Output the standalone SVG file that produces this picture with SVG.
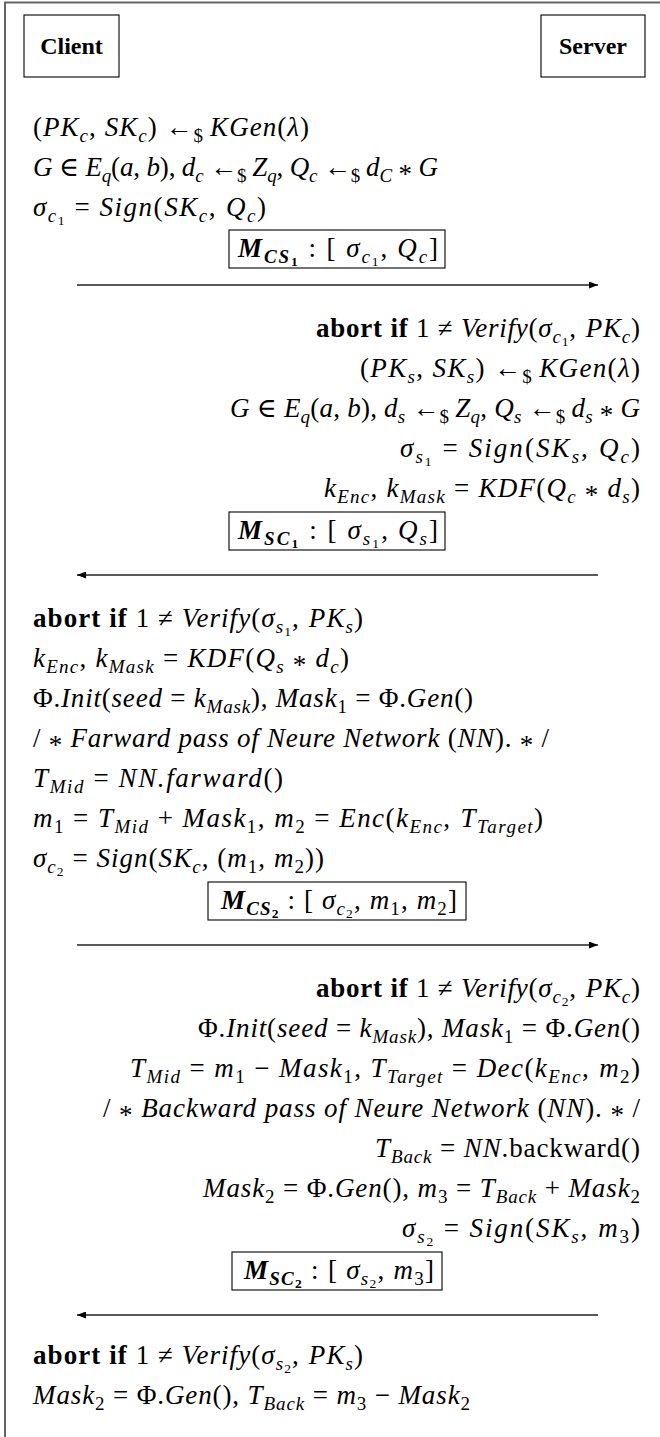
<svg xmlns="http://www.w3.org/2000/svg" width="660" height="1437" viewBox="0 0 660 1437" font-family="'Liberation Serif', 'DejaVu Serif', serif">
<style>
.t{font-family:'Liberation Serif','DejaVu Serif',serif;font-size:27px;fill:#000}
.e{text-anchor:end}
.c{text-anchor:middle}
.i{font-style:italic}
.s{font-size:19px}
.si{font-size:19px;font-style:italic}
.ss{font-size:13.5px}
.b{font-weight:bold}
.bi{font-weight:bold;font-style:italic}
.sbi{font-size:19px;font-weight:bold;font-style:italic}
.ssb{font-size:13.5px;font-weight:bold}
.hd{font-family:'Liberation Serif','DejaVu Serif',serif;font-size:24px;font-weight:bold;text-anchor:middle}
.box{fill:#fff;stroke:#000;stroke-width:1.1}
.arr{stroke:#222;stroke-width:1.3;fill:none;marker-end:url(#ah)}
</style>
<defs>
<marker id="ah" markerUnits="userSpaceOnUse" markerWidth="9" markerHeight="7" refX="9" refY="3.5" orient="auto"><path d="M0,0 L9,3.5 L0,7 z" fill="#000"/></marker>
</defs>
<rect width="660" height="1437" fill="#fff"/>
<path d="M5,1437 V2.5 H660" fill="none" stroke="#666" stroke-width="2"/>

<g id="client">
<rect class="box" x="24" y="15" width="95" height="62"/>
<text class="hd" x="71.5" y="54">Client</text>
</g>
<g id="server">
<rect class="box" x="541" y="15" width="104" height="62"/>
<text class="hd" x="593" y="54">Server</text>
</g>

<g id="client-step1">
<text class="t" x="33" y="136" textLength="276" lengthAdjust="spacing">(<tspan class="i">PK</tspan><tspan class="si" dy="6">c</tspan><tspan dy="-6">, </tspan><tspan class="i">SK</tspan><tspan class="si" dy="6">c</tspan><tspan dy="-6">) ←</tspan><tspan class="s" dy="6">$</tspan><tspan class="i" dy="-6" dx="6">KGen</tspan>(<tspan class="i">λ</tspan>)</text>
<text class="t" x="33" y="176" textLength="405" lengthAdjust="spacing"><tspan class="i">G</tspan> ∈ <tspan class="i">E</tspan><tspan class="si" dy="6">q</tspan><tspan dy="-6">(</tspan><tspan class="i">a</tspan>, <tspan class="i">b</tspan>), <tspan class="i">d</tspan><tspan class="si" dy="6">c</tspan><tspan dy="-6"> ←</tspan><tspan class="s" dy="6">$</tspan><tspan class="i" dy="-6" dx="6">Z</tspan><tspan class="si" dy="6">q</tspan><tspan dy="-6">, </tspan><tspan class="i">Q</tspan><tspan class="si" dy="6">c</tspan><tspan dy="-6"> ←</tspan><tspan class="s" dy="6">$</tspan><tspan class="i" dy="-6" dx="6">d</tspan><tspan class="si" dy="6">C</tspan><tspan dy="1"> * </tspan><tspan class="i" dy="-7">G</tspan></text>
<text class="t" x="33" y="216" textLength="233" lengthAdjust="spacing"><tspan class="i">σ</tspan><tspan class="si" dy="6">c</tspan><tspan class="ss" dy="3">1</tspan><tspan dy="-9"> = </tspan><tspan class="i">Sign</tspan>(<tspan class="i">SK</tspan><tspan class="si" dy="6">c</tspan><tspan dy="-6">,</tspan><tspan class="i" dx="9">Q</tspan><tspan class="si" dy="6">c</tspan><tspan dy="-6">)</tspan></text>
</g>

<g id="msg-cs1">
<rect class="box" x="229" y="230" width="216" height="38"/>
<text class="t c" x="338" y="257" textLength="200" lengthAdjust="spacing"><tspan class="bi">M</tspan><tspan class="sbi" dy="6">CS</tspan><tspan class="ssb" dy="3">1</tspan><tspan dy="-9"> : [ </tspan><tspan class="i">σ</tspan><tspan class="si" dy="6">c</tspan><tspan class="ss" dy="3">1</tspan><tspan dy="-9">,</tspan><tspan class="i" dx="8">Q</tspan><tspan class="si" dy="6">c</tspan><tspan dy="-6">]</tspan></text>
</g>

<g id="server-step1">
<text class="t e" x="640" y="337" textLength="324" lengthAdjust="spacing"><tspan class="b">abort if</tspan> 1 ≠ <tspan class="i">Verify</tspan>(<tspan class="i">σ</tspan><tspan class="si" dy="6">c</tspan><tspan class="ss" dy="3">1</tspan><tspan dy="-9">,</tspan><tspan class="i" dx="9">PK</tspan><tspan class="si" dy="6">c</tspan><tspan dy="-6">)</tspan></text>
<text class="t e" x="640" y="377" textLength="280" lengthAdjust="spacing">(<tspan class="i">PK</tspan><tspan class="si" dy="6">s</tspan><tspan dy="-6">, </tspan><tspan class="i">SK</tspan><tspan class="si" dy="6">s</tspan><tspan dy="-6">) ←</tspan><tspan class="s" dy="6">$</tspan><tspan class="i" dy="-6" dx="6">KGen</tspan>(<tspan class="i">λ</tspan>)</text>
<text class="t e" x="640" y="417" textLength="410" lengthAdjust="spacing"><tspan class="i">G</tspan> ∈ <tspan class="i">E</tspan><tspan class="si" dy="6">q</tspan><tspan dy="-6">(</tspan><tspan class="i">a</tspan>, <tspan class="i">b</tspan>), <tspan class="i">d</tspan><tspan class="si" dy="6">s</tspan><tspan dy="-6"> ←</tspan><tspan class="s" dy="6">$</tspan><tspan class="i" dy="-6" dx="6">Z</tspan><tspan class="si" dy="6">q</tspan><tspan dy="-6">, </tspan><tspan class="i">Q</tspan><tspan class="si" dy="6">s</tspan><tspan dy="-6"> ←</tspan><tspan class="s" dy="6">$</tspan><tspan class="i" dy="-6" dx="6">d</tspan><tspan class="si" dy="6">s</tspan><tspan dy="1"> * </tspan><tspan class="i" dy="-7">G</tspan></text>
<text class="t e" x="640" y="457" textLength="240" lengthAdjust="spacing"><tspan class="i">σ</tspan><tspan class="si" dy="6">s</tspan><tspan class="ss" dy="3">1</tspan><tspan dy="-9"> = </tspan><tspan class="i">Sign</tspan>(<tspan class="i">SK</tspan><tspan class="si" dy="6">s</tspan><tspan dy="-6">,</tspan><tspan class="i" dx="9">Q</tspan><tspan class="si" dy="6">c</tspan><tspan dy="-6">)</tspan></text>
<text class="t e" x="640" y="497" textLength="316" lengthAdjust="spacing"><tspan class="i">k</tspan><tspan class="si" dy="6">Enc</tspan><tspan dy="-6">, </tspan><tspan class="i">k</tspan><tspan class="si" dy="6">Mask</tspan><tspan dy="-6"> = </tspan><tspan class="i">KDF</tspan>(<tspan class="i">Q</tspan><tspan class="si" dy="6">c</tspan><tspan dy="1"> * </tspan><tspan class="i" dy="-7">d</tspan><tspan class="si" dy="6">s</tspan><tspan dy="-6">)</tspan></text>
</g>

<g id="msg-sc1">
<rect class="box" x="229" y="512" width="216" height="38"/>
<text class="t c" x="338" y="539" textLength="200" lengthAdjust="spacing"><tspan class="bi">M</tspan><tspan class="sbi" dy="6">SC</tspan><tspan class="ssb" dy="3">1</tspan><tspan dy="-9"> : [ </tspan><tspan class="i">σ</tspan><tspan class="si" dy="6">s</tspan><tspan class="ss" dy="3">1</tspan><tspan dy="-9">,</tspan><tspan class="i" dx="8">Q</tspan><tspan class="si" dy="6">s</tspan><tspan dy="-6">]</tspan></text>
</g>

<g id="client-step2">
<text class="t" x="33" y="627" textLength="330" lengthAdjust="spacing"><tspan class="b">abort if</tspan> 1 ≠ <tspan class="i">Verify</tspan>(<tspan class="i">σ</tspan><tspan class="si" dy="6">s</tspan><tspan class="ss" dy="3">1</tspan><tspan dy="-9">,</tspan><tspan class="i" dx="9">PK</tspan><tspan class="si" dy="6">s</tspan><tspan dy="-6">)</tspan></text>
<text class="t" x="33" y="667" textLength="316" lengthAdjust="spacing"><tspan class="i">k</tspan><tspan class="si" dy="6">Enc</tspan><tspan dy="-6">, </tspan><tspan class="i">k</tspan><tspan class="si" dy="6">Mask</tspan><tspan dy="-6"> = </tspan><tspan class="i">KDF</tspan>(<tspan class="i">Q</tspan><tspan class="si" dy="6">s</tspan><tspan dy="1"> * </tspan><tspan class="i" dy="-7">d</tspan><tspan class="si" dy="6">c</tspan><tspan dy="-6">)</tspan></text>
<text class="t" x="33" y="707" textLength="440" lengthAdjust="spacing">Φ.<tspan class="i">Init</tspan>(<tspan class="i">seed</tspan> = <tspan class="i">k</tspan><tspan class="si" dy="6">Mask</tspan><tspan dy="-6">), </tspan><tspan class="i">Mask</tspan><tspan class="s" dy="6">1</tspan><tspan dy="-6"> = Φ.</tspan><tspan class="i">Gen</tspan>()</text>
<text class="t" x="33" y="747" textLength="516" lengthAdjust="spacing">/ <tspan dy="7">*</tspan><tspan class="i" dy="-7"> Farward pass of Neure Network</tspan> (<tspan class="i">NN</tspan>). <tspan dy="7">*</tspan><tspan dy="-7"> /</tspan></text>
<text class="t" x="33" y="787" textLength="250" lengthAdjust="spacing"><tspan class="i">T</tspan><tspan class="si" dy="6">Mid</tspan><tspan dy="-6"> = </tspan><tspan class="i">NN.farward</tspan>()</text>
<text class="t" x="33" y="827" textLength="510" lengthAdjust="spacing"><tspan class="i">m</tspan><tspan class="s" dy="6">1</tspan><tspan dy="-6"> = </tspan><tspan class="i">T</tspan><tspan class="si" dy="6">Mid</tspan><tspan dy="-6"> + </tspan><tspan class="i">Mask</tspan><tspan class="s" dy="6">1</tspan><tspan dy="-6">, </tspan><tspan class="i">m</tspan><tspan class="s" dy="6">2</tspan><tspan dy="-6"> = </tspan><tspan class="i">Enc</tspan>(<tspan class="i">k</tspan><tspan class="si" dy="6">Enc</tspan><tspan dy="-6">,</tspan><tspan class="i" dx="9">T</tspan><tspan class="si" dy="6">Target</tspan><tspan dy="-6">)</tspan></text>
<text class="t" x="33" y="867" textLength="291" lengthAdjust="spacing"><tspan class="i">σ</tspan><tspan class="si" dy="6">c</tspan><tspan class="ss" dy="3">2</tspan><tspan dy="-9"> = </tspan><tspan class="i">Sign</tspan>(<tspan class="i">SK</tspan><tspan class="si" dy="6">c</tspan><tspan dy="-6">, (</tspan><tspan class="i">m</tspan><tspan class="s" dy="6">1</tspan><tspan dy="-6">, </tspan><tspan class="i">m</tspan><tspan class="s" dy="6">2</tspan><tspan dy="-6">))</tspan></text>
</g>

<g id="msg-cs2">
<rect class="box" x="208" y="882" width="258" height="38"/>
<text class="t c" x="339" y="909" textLength="236" lengthAdjust="spacing"><tspan class="bi">M</tspan><tspan class="sbi" dy="6">CS</tspan><tspan class="ssb" dy="3">2</tspan><tspan dy="-9"> : [ </tspan><tspan class="i">σ</tspan><tspan class="si" dy="6">c</tspan><tspan class="ss" dy="3">2</tspan><tspan dy="-9">, </tspan><tspan class="i">m</tspan><tspan class="s" dy="6">1</tspan><tspan dy="-6">, </tspan><tspan class="i">m</tspan><tspan class="s" dy="6">2</tspan><tspan dy="-6">]</tspan></text>
</g>

<g id="server-step2">
<text class="t e" x="640" y="997" textLength="324" lengthAdjust="spacing"><tspan class="b">abort if</tspan> 1 ≠ <tspan class="i">Verify</tspan>(<tspan class="i">σ</tspan><tspan class="si" dy="6">c</tspan><tspan class="ss" dy="3">2</tspan><tspan dy="-9">,</tspan><tspan class="i" dx="9">PK</tspan><tspan class="si" dy="6">c</tspan><tspan dy="-6">)</tspan></text>
<text class="t e" x="640" y="1037" textLength="442" lengthAdjust="spacing">Φ.<tspan class="i">Init</tspan>(<tspan class="i">seed</tspan> = <tspan class="i">k</tspan><tspan class="si" dy="6">Mask</tspan><tspan dy="-6">), </tspan><tspan class="i">Mask</tspan><tspan class="s" dy="6">1</tspan><tspan dy="-6"> = Φ.</tspan><tspan class="i">Gen</tspan>()</text>
<text class="t e" x="640" y="1077" textLength="510" lengthAdjust="spacing"><tspan class="i">T</tspan><tspan class="si" dy="6">Mid</tspan><tspan dy="-6"> = </tspan><tspan class="i">m</tspan><tspan class="s" dy="6">1</tspan><tspan dy="-6"> − </tspan><tspan class="i">Mask</tspan><tspan class="s" dy="6">1</tspan><tspan dy="-6">, </tspan><tspan class="i">T</tspan><tspan class="si" dy="6">Target</tspan><tspan dy="-6"> = </tspan><tspan class="i">Dec</tspan>(<tspan class="i">k</tspan><tspan class="si" dy="6">Enc</tspan><tspan dy="-6">,</tspan><tspan class="i" dx="9">m</tspan><tspan class="s" dy="6">2</tspan><tspan dy="-6">)</tspan></text>
<text class="t e" x="640" y="1117" textLength="537" lengthAdjust="spacing">/ <tspan dy="7">*</tspan><tspan class="i" dy="-7"> Backward pass of Neure Network</tspan> (<tspan class="i">NN</tspan>). <tspan dy="7">*</tspan><tspan dy="-7"> /</tspan></text>
<text class="t e" x="640" y="1157" textLength="265" lengthAdjust="spacing"><tspan class="i">T</tspan><tspan class="si" dy="6">Back</tspan><tspan dy="-6"> = </tspan><tspan class="i">NN</tspan>.backward()</text>
<text class="t e" x="640" y="1197" textLength="437" lengthAdjust="spacing"><tspan class="i">Mask</tspan><tspan class="s" dy="6">2</tspan><tspan dy="-6"> = Φ.</tspan><tspan class="i">Gen</tspan>(), <tspan class="i">m</tspan><tspan class="s" dy="6">3</tspan><tspan dy="-6"> = </tspan><tspan class="i">T</tspan><tspan class="si" dy="6">Back</tspan><tspan dy="-6"> + </tspan><tspan class="i">Mask</tspan><tspan class="s" dy="6">2</tspan></text>
<text class="t e" x="640" y="1237" textLength="238" lengthAdjust="spacing"><tspan class="i">σ</tspan><tspan class="si" dy="6">s</tspan><tspan class="ss" dy="3">2</tspan><tspan dy="-9"> = </tspan><tspan class="i">Sign</tspan>(<tspan class="i">SK</tspan><tspan class="si" dy="6">s</tspan><tspan dy="-6">,</tspan><tspan class="i" dx="9">m</tspan><tspan class="s" dy="6">3</tspan><tspan dy="-6">)</tspan></text>
</g>

<g id="msg-sc2">
<rect class="box" x="232" y="1252" width="210" height="38"/>
<text class="t c" x="339" y="1279" textLength="190" lengthAdjust="spacing"><tspan class="bi">M</tspan><tspan class="sbi" dy="6">SC</tspan><tspan class="ssb" dy="3">2</tspan><tspan dy="-9"> : [ </tspan><tspan class="i">σ</tspan><tspan class="si" dy="6">s</tspan><tspan class="ss" dy="3">2</tspan><tspan dy="-9">, </tspan><tspan class="i">m</tspan><tspan class="s" dy="6">3</tspan><tspan dy="-6">]</tspan></text>
</g>

<g id="client-step3">
<text class="t" x="33" y="1364" textLength="330" lengthAdjust="spacing"><tspan class="b">abort if</tspan> 1 ≠ <tspan class="i">Verify</tspan>(<tspan class="i">σ</tspan><tspan class="si" dy="6">s</tspan><tspan class="ss" dy="3">2</tspan><tspan dy="-9">,</tspan><tspan class="i" dx="9">PK</tspan><tspan class="si" dy="6">s</tspan><tspan dy="-6">)</tspan></text>
<text class="t" x="33" y="1404" textLength="437" lengthAdjust="spacing"><tspan class="i">Mask</tspan><tspan class="s" dy="6">2</tspan><tspan dy="-6"> = Φ.</tspan><tspan class="i">Gen</tspan>(), <tspan class="i">T</tspan><tspan class="si" dy="6">Back</tspan><tspan dy="-6"> = </tspan><tspan class="i">m</tspan><tspan class="s" dy="6">3</tspan><tspan dy="-6"> − </tspan><tspan class="i">Mask</tspan><tspan class="s" dy="6">2</tspan></text>
</g>

<g id="connectors">
<line class="arr" x1="77" y1="285" x2="598" y2="285"/>
<line class="arr" x1="598" y1="575" x2="77" y2="575"/>
<line class="arr" x1="77" y1="945" x2="598" y2="945"/>
<line class="arr" x1="598" y1="1315" x2="77" y2="1315"/>
</g>
</svg>
